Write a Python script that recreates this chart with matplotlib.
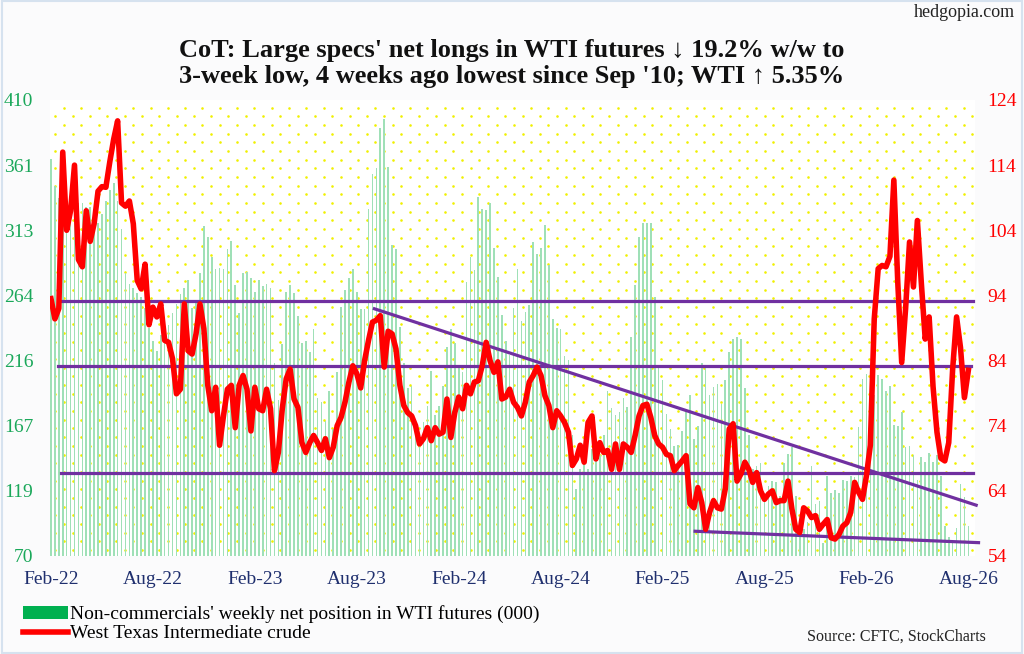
import matplotlib
matplotlib.use("Agg")
import matplotlib.pyplot as plt
from matplotlib.patches import Patch, Rectangle
from matplotlib.lines import Line2D
import numpy as np

# weekly non-commercial net position in WTI futures (000), Feb-22 .. Aug-26
net_longs = [
    366, 346, 337, 340, 345, 340, 337, 333, 333, 330,
    330, 325, 318, 325, 335, 343, 348, 335, 314, 281,
    273, 270, 266, 263, 255, 240, 230, 223, 235, 245,
    242, 251, 258, 265, 270, 276, 255, 259, 281, 316,
    308, 293, 284, 285, 284, 299, 305, 272, 251, 281,
    282, 277, 267, 276, 271, 273, 270, 214, 186, 228,
    267, 272, 266, 249, 229, 230, 222, 239, 188, 185,
    171, 193, 165, 207, 256, 268, 277, 284, 267, 254,
    254, 329, 355, 359, 389, 396, 360, 302, 299, 241,
    214, 195, 197, 168, 157, 170, 182, 208, 175, 182,
    197, 226, 239, 229, 210, 207, 274, 293, 283, 338,
    329, 328, 333, 300, 278, 250, 230, 220, 255, 284,
    245, 252, 257, 304, 295, 300, 317, 287, 247, 240,
    239, 219, 216, 160, 120, 135, 140, 135, 150, 155,
    145, 160, 193, 180, 175, 177, 188, 181, 233, 272,
    308, 318, 318, 318, 263, 212, 201, 176, 165, 152,
    153, 163, 177, 190, 157, 167, 214, 210, 190, 196,
    198, 183, 201, 222, 232, 233, 232, 195, 160, 135,
    137, 139, 117, 122, 126, 125, 115, 139, 146, 151,
    115, 95, 90, 95, 137, 109, 111, 80, 130, 117,
    119, 117, 127, 126, 130, 129, 166, 202, 206, 210,
    190, 205, 202, 193, 197, 168, 167, 177, 151, 152,
    145, 127, 144, 140, 147, 140, 145, 130, 92, 84,
    80, 91, 124, 114, 92,
]

# weekly West Texas Intermediate crude ($/bbl)
wti = [
    93.5, 90.4, 92.0, 116.0, 104.0, 107.0, 114.0, 99.5, 98.4, 107.0,
    102.3, 105.0, 110.0, 110.7, 110.6, 114.5, 118.0, 120.8, 108.2, 107.7,
    108.5, 105.0, 96.3, 95.0, 98.8, 89.5, 92.2, 90.7, 92.7, 87.1,
    86.8, 84.3, 78.9, 79.6, 92.7, 85.5, 85.0, 88.1, 92.7, 88.9,
    80.2, 76.3, 79.9, 71.0, 75.5, 79.6, 80.2, 73.7, 80.2, 81.7,
    79.6, 73.2, 79.9, 76.6, 76.3, 79.6, 76.6, 67.1, 69.9, 76.6,
    81.2, 82.7, 78.1, 76.8, 71.4, 69.9, 71.4, 72.5, 71.4, 70.2,
    72.0, 69.1, 70.7, 74.0, 75.3, 77.6, 80.7, 83.2, 82.0, 79.8,
    84.0, 87.1, 89.9, 90.2, 90.9, 83.0, 88.5, 88.1, 85.8, 80.2,
    77.1, 76.0, 75.5, 74.0, 71.2, 72.0, 73.7, 71.7, 73.7, 72.7,
    73.0, 78.1, 72.2, 76.0, 78.4, 76.6, 80.2, 78.9, 80.7, 80.9,
    83.2, 86.8, 84.0, 82.2, 83.8, 78.1, 78.4, 79.6, 77.6, 76.8,
    75.5, 77.6, 80.7, 81.7, 83.0, 81.7, 78.6, 77.1, 73.7, 76.3,
    75.5, 74.5, 73.0, 67.9, 68.9, 71.0, 68.4, 74.5, 75.5, 68.9,
    71.4, 69.9, 70.2, 67.3, 71.2, 67.3, 71.2, 70.7, 69.9, 72.5,
    75.5, 77.1, 77.3, 75.3, 72.5, 71.2, 70.7, 69.6, 69.4, 67.1,
    67.9, 68.6, 69.4, 62.0, 61.4, 64.5, 62.2, 58.1, 60.7, 62.5,
    61.4, 61.2, 64.3, 73.5, 74.3, 65.5, 66.6, 68.4, 67.3, 65.3,
    66.8, 64.0, 62.7, 63.5, 64.0, 62.2, 62.5, 62.5, 65.5, 61.2,
    58.1, 57.6, 61.4, 60.9, 59.9, 60.2, 58.1, 58.9, 59.6, 56.8,
    56.6, 57.3, 58.6, 59.1, 60.7, 65.3, 63.8, 62.7, 66.3, 71.0,
    90.4, 98.1, 98.6, 98.4, 100.0, 111.7, 96.0, 83.7, 92.0, 102.2,
    95.3, 105.5, 96.0, 87.3, 90.7, 80.0, 73.0, 69.0, 68.6, 71.4,
    82.7, 90.7, 86.0, 78.3, 82.5,
]

tick_weeks = [0, 26, 52, 78, 104, 130, 156, 182, 208, 234]
tick_labels = ["Feb-22", "Aug-22", "Feb-23", "Aug-23", "Feb-24",
               "Aug-24", "Feb-25", "Aug-25", "Feb-26", "Aug-26"]

# hand-drawn support/resistance on the WTI scale: (level, first week, last week)
levels = [93.2, 83.1, 66.7]
level_start = [2.5, 1.9, 2.5]
level_end = [235.2, 234.6, 235.2]
# trend lines: (week0, price0, week1, price1)
trend_falling = [82.5, 91.95, 236.0, 61.8]
trend_floor = [164.3, 57.8, 236.6, 56.05]

GREEN_TXT = "#1aa85a"
RED = "#ff0000"
PURPLE = "#7030a0"
NAVY = "#1f2f6e"
SERIF = ["Liberation Serif", "DejaVu Serif"]

plt.rcParams["font.family"] = SERIF

weeks = np.arange(len(net_longs))

fig = plt.figure(figsize=(10.24, 6.54), dpi=100, facecolor="#fbfbfc")
fig.patches.append(Rectangle((0.002, 0.002), 0.996, 0.996, transform=fig.transFigure,
                             fill=False, edgecolor="#d6e2ef", lw=1.5))

ax = fig.add_axes([50 / 1024, 98 / 654, 925 / 1024, 456 / 654])
ax.set_facecolor("white")

# yellow dotted backdrop
ax_w, ax_h = 925.0, 456.0
dot_x, dot_y = [], []
for k, ry in enumerate(np.arange(7.7, ax_h - 2, 8.67)):
    start = 14.0 if k % 2 == 0 else 5.4
    cols = np.arange(start, ax_w - 2, 17.3)
    dot_x.extend(cols / ax_w)
    dot_y.extend([1 - ry / ax_h] * len(cols))
ax.scatter(dot_x, dot_y, s=3.5, color="#f0f000", linewidths=0,
           transform=ax.transAxes, zorder=0)

ax.bar(weeks, net_longs, width=0.42, color="#9fe0b7", zorder=1)
ax.set_ylim(70, 410)
ax.set_xlim(-0.25, 235.7)
ax.set_yticks(np.linspace(70, 410, 8))
ax.set_yticklabels([f"{v:.0f}" for v in np.linspace(70, 410, 8)])
ax.set_xticks(tick_weeks)
ax.set_xticklabels(tick_labels)
ax.tick_params(axis="y", colors=GREEN_TXT, labelsize=14, length=0, pad=12)
ax.tick_params(axis="x", colors=NAVY, labelsize=14, length=0, pad=11)

ax2 = ax.twinx()
ax2.set_ylim(54, 124)
ax2.set_yticks(np.arange(54, 125, 10))
ax2.tick_params(axis="y", colors=RED, labelsize=14, length=0, pad=9)

for lv, s, e in zip(levels, level_start, level_end):
    ax2.plot([s, e], [lv, lv], color=PURPLE, lw=2.3, zorder=2, clip_on=False)
for tl in (trend_falling, trend_floor):
    ax2.plot([tl[0], tl[2]], [tl[1], tl[3]], color=PURPLE, lw=2.3, zorder=2, clip_on=False)

ax2.plot(weeks, wti, color=RED, lw=4, solid_joinstyle="round", zorder=3)

for a in (ax, ax2):
    for sp in a.spines.values():
        sp.set_visible(False)

fig.text(0.5, 0.903,
         "CoT: Large specs' net longs in WTI futures \u2193 19.2% w/w to\n"
         "3-week low, 4 weeks ago lowest since Sep '10; WTI \u2191 5.35%",
         ha="center", va="center", fontsize=19, fontweight="bold",
         linespacing=1.12, color="#111111", family=SERIF)
fig.text(0.991, 0.981, "hedgopia.com", ha="right", va="center", fontsize=13,
         color="#222222")

handles = [Patch(facecolor="#00b050", edgecolor="none"),
           Line2D([0], [0], color=RED, lw=4)]
fig.legend(handles, ["Non-commercials' weekly net position in WTI futures (000)",
                     "West Texas Intermediate crude"],
           loc="upper left", bbox_to_anchor=(0.015, 0.086), frameon=False,
           fontsize=14, handlelength=2.3, handleheight=0.6, handletextpad=0.12,
           labelspacing=0.1, borderaxespad=0)
fig.text(0.963, 0.027, "Source: CFTC, StockCharts", ha="right", va="center",
         fontsize=11.5, color="#222222")

fig.savefig("out.png", dpi=100, facecolor=fig.get_facecolor())
